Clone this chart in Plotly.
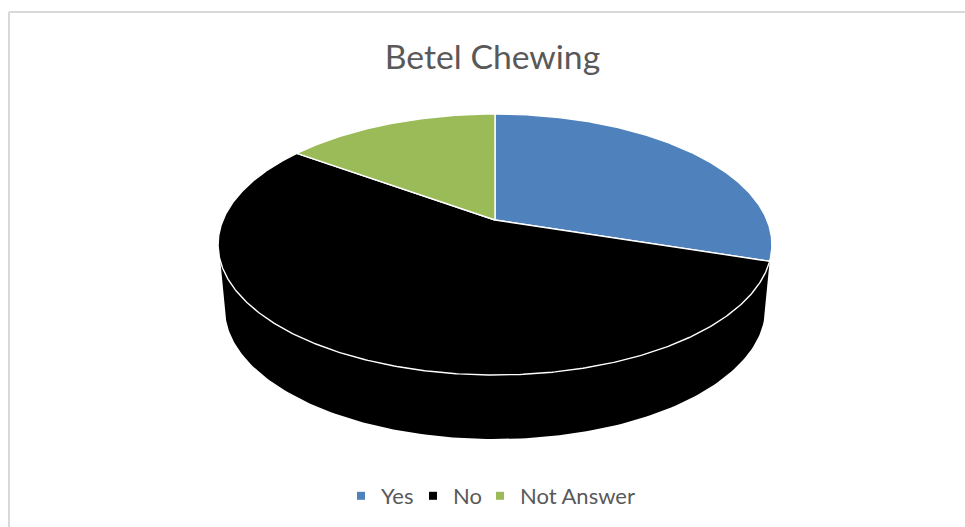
import numpy as np
import plotly.graph_objects as go

categories = ["Yes", "No", "Not Answer"]
values = [30, 55, 15]
colors = ["#4F81BD", "#000000", "#9BBB59"]
title_text = "Betel Chewing"

W, H = 965, 527
APEX_X, APEX_Y = 495.0, 220.0   # projected pie centre
HALF_W = 272.0                  # projection scale, horizontal
HALF_H = 125.9                  # projection scale, vertical
PERSP = 0.1877                  # perspective strength
DEPTH = 64.0                    # extrusion of the disc
BOTTOM_SCALE = 0.975            # lower rim is slightly narrower
LEGEND_TEXT_X = [380, 452, 519] # where each legend label starts
LEGEND_PAD = 39                 # marker box width in front of the label


def project(deg):
    """Clockwise angle from 12 o'clock on the disc -> screen position."""
    t = np.radians(np.asarray(deg, dtype=float))
    dx, dy = np.sin(t), np.cos(t)
    w = 1 + PERSP * dy
    return APEX_X + HALF_W * dx / w, APEX_Y - HALF_H * dy / w


fig = go.Figure()

# side wall: front arc of the top rim joined to the front arc of the lower rim
first_cut = 360 * values[0] / sum(values)
rim_a = np.linspace(first_cut, 360 - first_cut, 120)
rx, ry = project(rim_a)
low_a = np.linspace(254, 106, 150)
lx, ly = project(low_a)
lx = APEX_X + (lx - APEX_X) * BOTTOM_SCALE
ly = ly + DEPTH
fig.add_trace(go.Scatter(x=np.r_[rx, lx], y=np.r_[ry, ly], mode="lines", fill="toself",
                         fillcolor="#000000", line=dict(color="#000000", width=0),
                         showlegend=False, hoverinfo="skip"))

# top face slices, built from the values
start = 0.0
for name, val, col in zip(categories, values, colors):
    sweep = 360 * val / sum(values)
    a = np.linspace(start, start + sweep, max(int(sweep * 2), 8))
    sx, sy = project(a)
    fig.add_trace(go.Scatter(x=np.r_[APEX_X, sx, APEX_X], y=np.r_[APEX_Y, sy, APEX_Y],
                             mode="lines", fill="toself", fillcolor=col,
                             line=dict(color="#FFFFFF", width=1.4),
                             showlegend=False, hoverinfo="skip", name=name))
    start += sweep

# legend entries, one small legend per category so each can sit where the reference has it
legend_ids = ["legend", "legend2", "legend3"]
for name, col, lid in zip(categories, colors, legend_ids):
    fig.add_trace(go.Scatter(x=[None], y=[None], mode="markers", name=name, legend=lid,
                             marker=dict(symbol="square", size=8, color=col)))

frame = dict(color="#D9D9D9", width=2)
fig.add_shape(type="line", x0=9, x1=W, y0=12, y1=12, line=frame, layer="below")
fig.add_shape(type="line", x0=9, x1=9, y0=12, y1=H, line=frame, layer="below")

legend_layout = {
    lid: dict(orientation="h", x=(tx - LEGEND_PAD) / W, xanchor="left", y=1 - 496 / H, yanchor="middle",
              font=dict(family="Lato", size=22, color="#595959"),
              itemwidth=30, bgcolor="rgba(0,0,0,0)")
    for lid, tx in zip(legend_ids, LEGEND_TEXT_X)
}

fig.update_layout(
    width=W, height=H,
    autosize=False,
    margin=dict(l=0, r=0, t=0, b=0),
    paper_bgcolor="#FFFFFF", plot_bgcolor="#FFFFFF",
    title=dict(text=title_text, x=492.5 / W, xanchor="center", y=1 - 57 / H, yanchor="middle",
               font=dict(family="Lato", size=33.7, color="#595959")),
    xaxis=dict(range=[0, W], visible=False, domain=[0, 1], fixedrange=True),
    yaxis=dict(range=[H, 0], visible=False, domain=[0, 1], fixedrange=True),
    **legend_layout,
)

fig.write_html("out.html", config=dict(displayModeBar=False),
               post_script="document.body.style.margin='0';document.documentElement.style.overflow='hidden';")
